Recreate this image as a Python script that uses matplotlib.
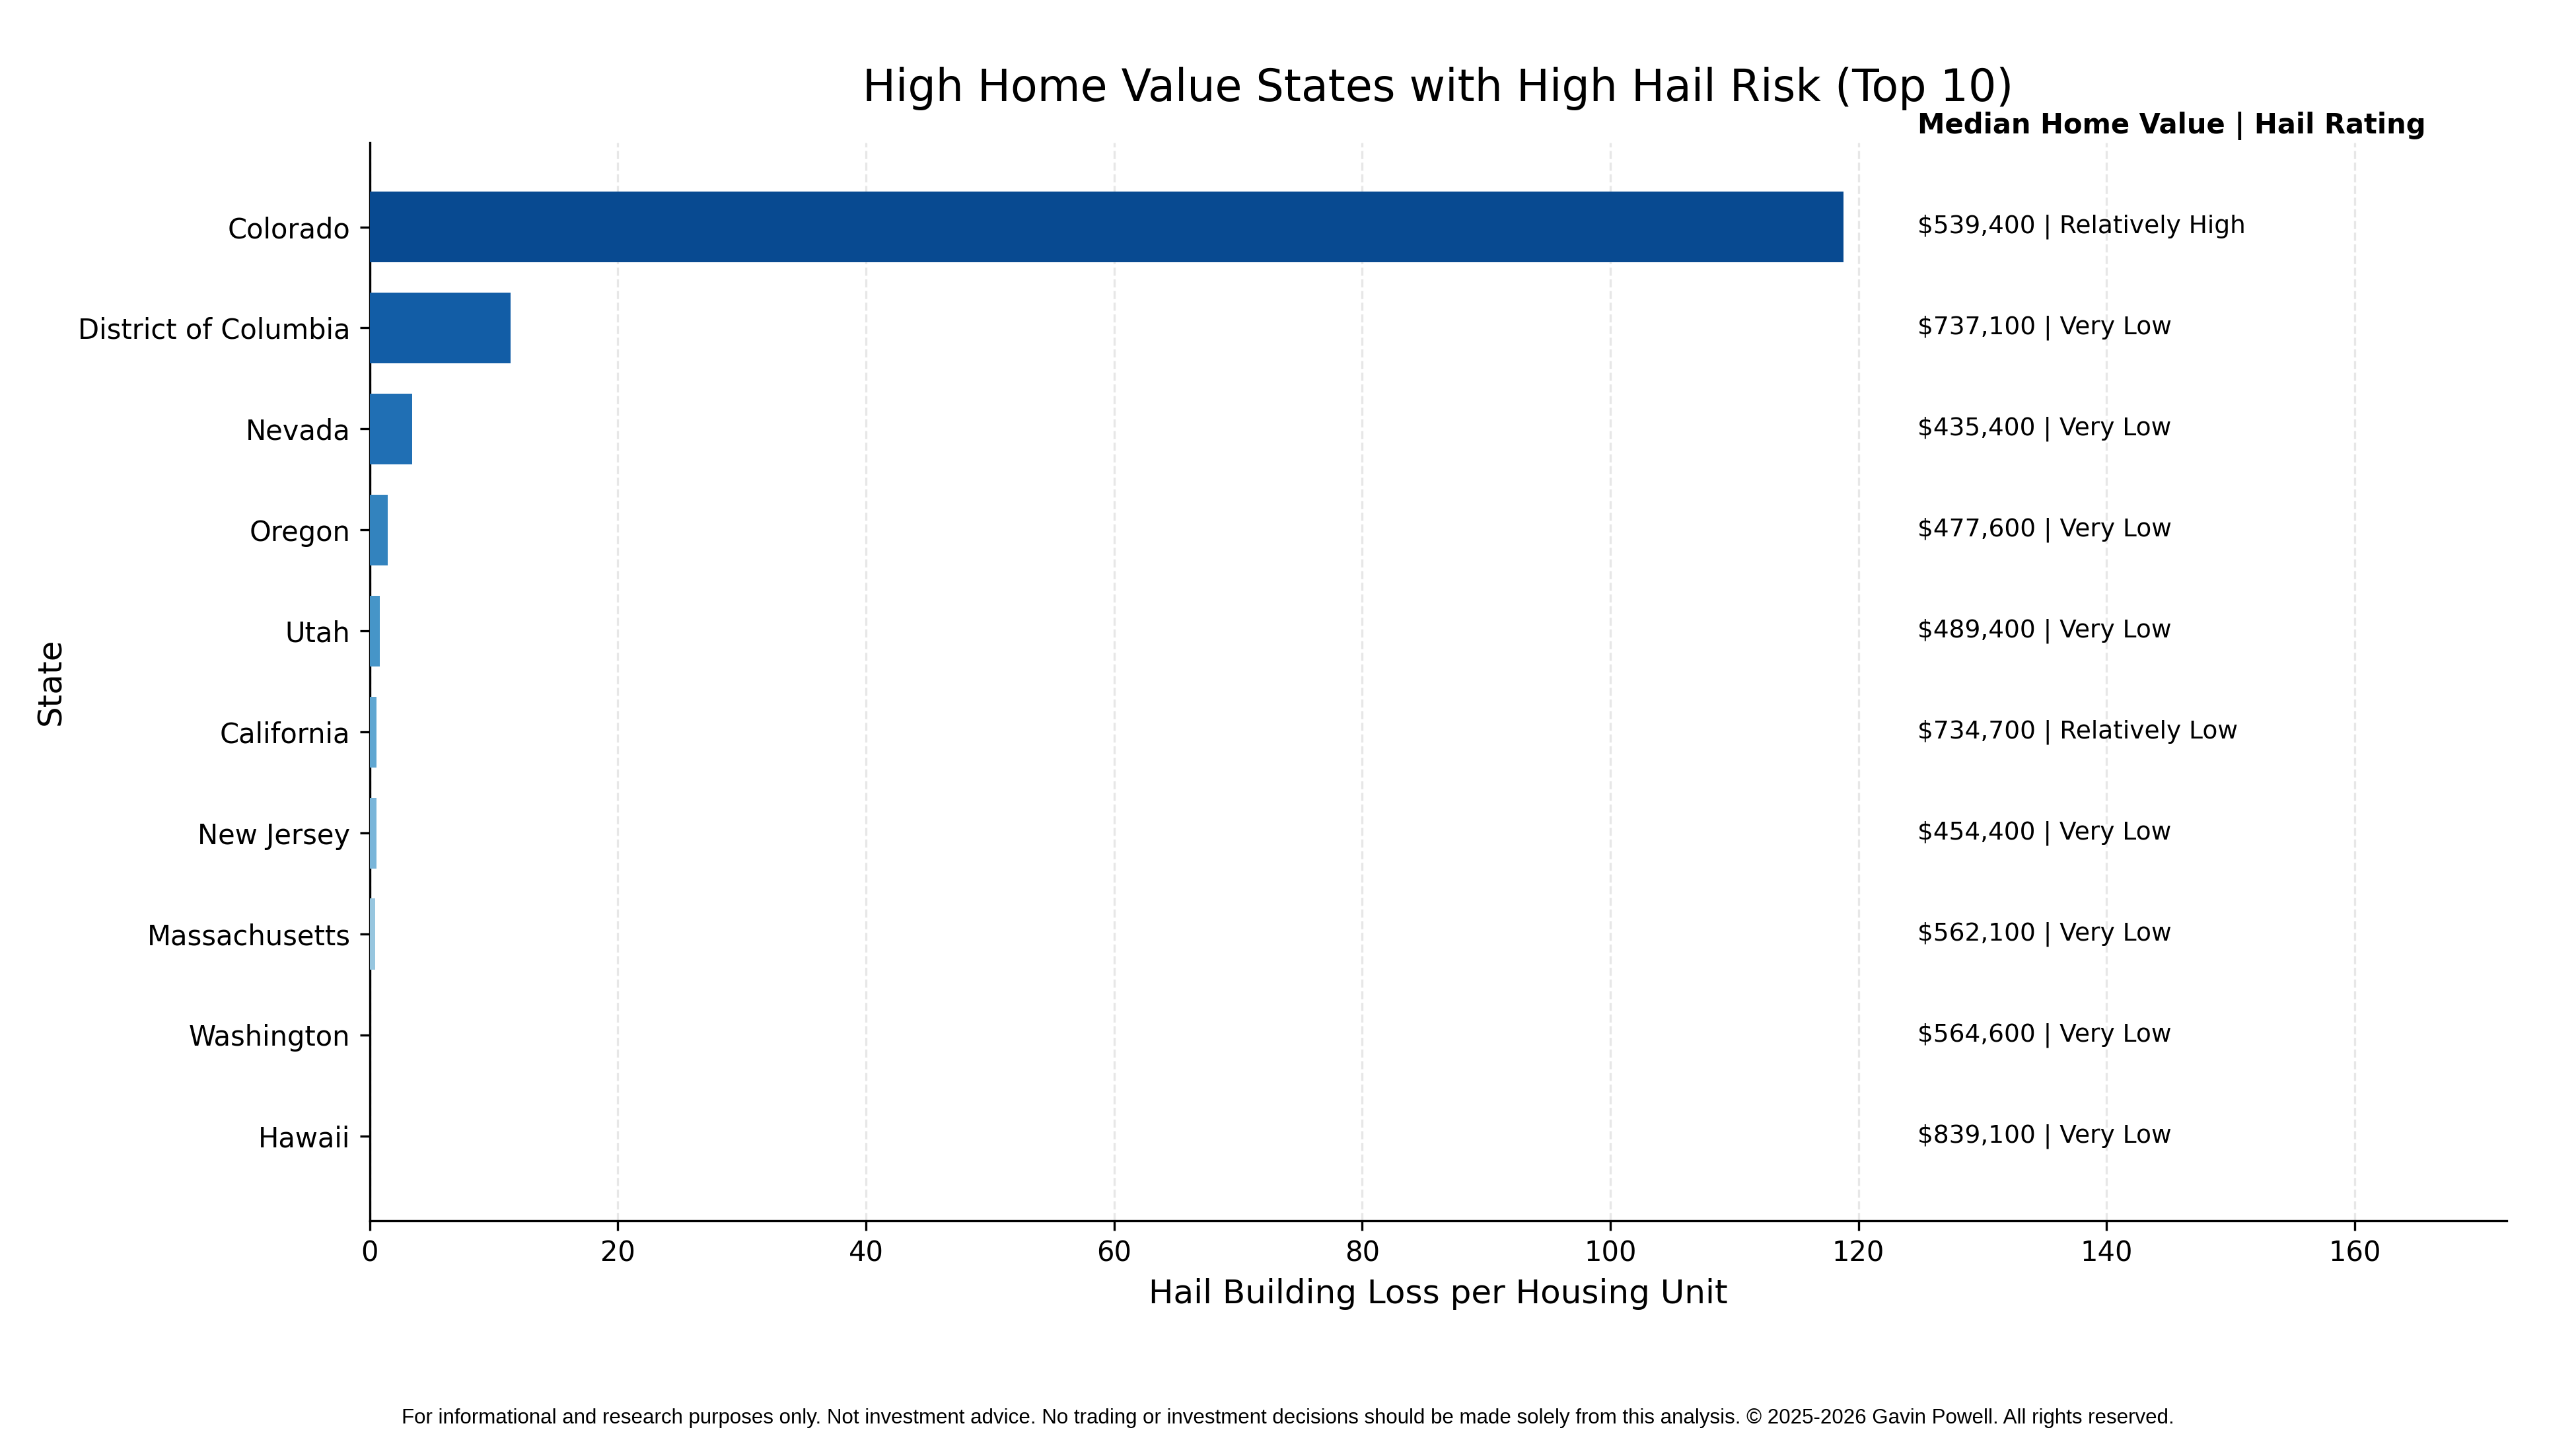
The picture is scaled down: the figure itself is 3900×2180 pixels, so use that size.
import matplotlib
matplotlib.use("Agg")
import matplotlib.pyplot as plt
import numpy as np

states = ["Colorado", "District of Columbia", "Nevada", "Oregon", "Utah",
          "California", "New Jersey", "Massachusetts", "Washington", "Hawaii"]
hail_loss = [118.8, 11.35, 3.45, 1.43, 0.80, 0.53, 0.53, 0.42, 0.01, 0.005]
home_values = [539400, 737100, 435400, 477600, 489400, 734700, 454400, 562100, 564600, 839100]
hail_ratings = ["Relatively High", "Very Low", "Very Low", "Very Low", "Very Low",
                "Relatively Low", "Very Low", "Very Low", "Very Low", "Very Low"]

plt.rcParams['font.family'] = ['DejaVu Sans']
fig, ax = plt.subplots(figsize=(13, 2180 / 300), dpi=300)
fig.subplots_adjust(left=0.1435, right=0.9731, top=0.901, bottom=0.1525)

colors = plt.cm.Blues(np.linspace(0.9, 0.25, len(states)))
y = np.arange(len(states))
ax.barh(y, hail_loss, height=0.7, color=colors, zorder=3)
ax.set_yticks(y)
ax.set_yticklabels(states, fontsize=10)
ax.invert_yaxis()
mx = max(hail_loss)
ax.set_xlim(0, mx * 1.45)
ax.tick_params(axis='x', labelsize=10)
ax.grid(axis='x', linestyle='--', color='#dddddd', alpha=0.7, zorder=0)
ax.set_axisbelow(True)
for s in ['top', 'right']:
    ax.spines[s].set_visible(False)

tx = mx * 1.05
for i, (v, r) in enumerate(zip(home_values, hail_ratings)):
    ax.text(tx, i, f"${v:,} | {r}", va='center', ha='left', fontsize=9)
ax.text(tx, -1.0, "Median Home Value | Hail Rating", va='center', ha='left',
        fontsize=10, fontweight='bold', clip_on=False)

ax.set_xlabel("Hail Building Loss per Housing Unit", fontsize=12)
ax.set_ylabel("State", fontsize=12)
ax.set_title("High Home Value States with High Hail Risk (Top 10)", fontsize=16, pad=15)

fig.text(0.5, 0.015, "For informational and research purposes only. Not investment advice. No trading or investment decisions should be made solely from this analysis. \u00a9 2025-2026 Gavin Powell. All rights reserved.",
         ha='center', va='center', fontsize=7.5, family=['Liberation Sans', 'DejaVu Sans'])

fig.savefig("out.png", dpi=300)
